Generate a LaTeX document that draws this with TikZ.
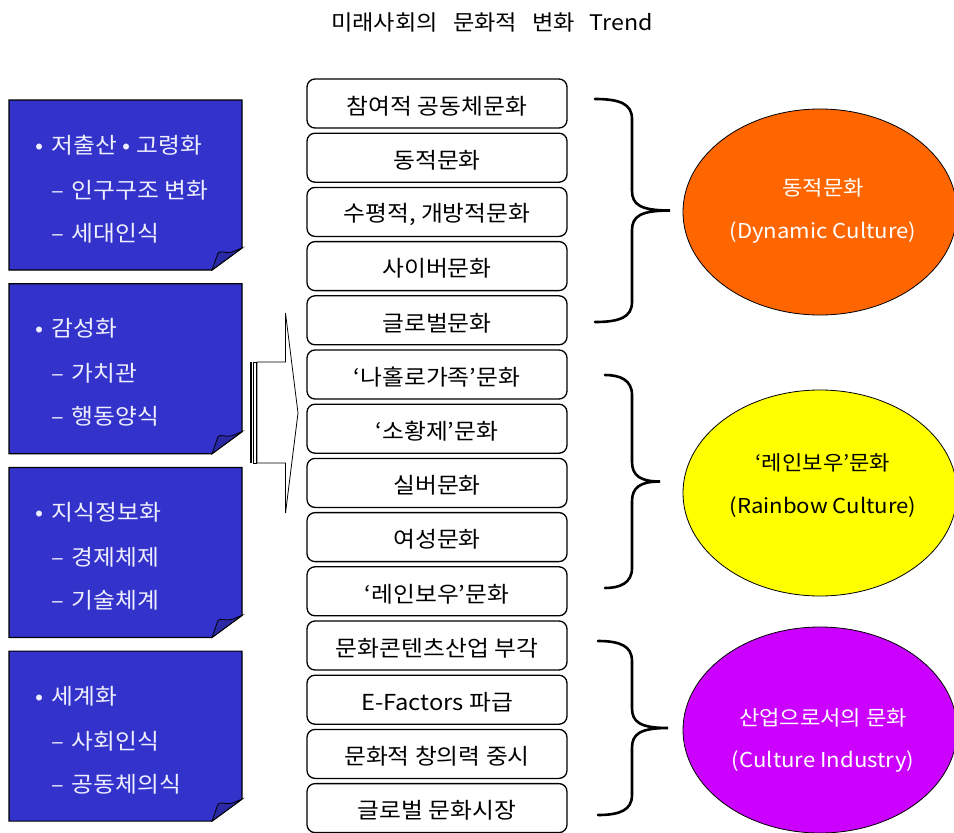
\documentclass[tikz,border=0pt]{standalone}
\usepackage{fontspec}
\setmainfont[FakeStretch=1.08]{Noto Sans CJK KR}
\usetikzlibrary{shapes.geometric}
\definecolor{boxblue}{HTML}{3333CC}
\definecolor{foldblue}{HTML}{2A2AA6}
\definecolor{dynorange}{HTML}{FF6600}
\definecolor{rainyellow}{HTML}{FFFF00}
\definecolor{indmag}{HTML}{CC00FF}
\definecolor{lighttext}{HTML}{EEEEFF}
\newcommand\drawbrace[5]{%
  \draw[bracestyle] (#1,#4) .. controls ({#2-12},#4) and (#2,{#4+5}) .. (#2,{#4+20})
    -- (#2,{(#4+#5)/2-20}) .. controls (#2,{(#4+#5)/2-6}) and ({#2+8},{(#4+#5)/2}) .. (#3,{(#4+#5)/2})
    .. controls ({#2+8},{(#4+#5)/2}) and (#2,{(#4+#5)/2+6}) .. (#2,{(#4+#5)/2+20})
    -- (#2,{#5-20}) .. controls (#2,{#5-5}) and ({#2-12},#5) .. (#1,#5);}
\begin{document}
\begin{tikzpicture}[x=1pt,y=-1pt,
  every node/.style={inner sep=0pt,outer sep=0pt},
  mbox/.style={draw,line width=1.3pt,rounded corners=8pt,minimum width=260pt,minimum height=49pt,fill=white,font=\fontsize{22}{26}\selectfont},
  ltext/.style={anchor=west,text=lighttext,font=\fontsize{22}{26}\selectfont},
  etext/.style={font=\fontsize{20.5}{24}\selectfont},
  bracestyle/.style={line width=2.6pt,line cap=round},
  ell/.style={ellipse,draw,line width=0.8pt,minimum width=274pt,minimum height=206pt}]
\useasboundingbox (0,0) rectangle (954,833);
\clip (0,0) rectangle (954,833);
% title
\node[font=\fontsize{21.5}{24}\selectfont] (title) at (492,22) {미래사회의\hspace{0.7em}문화적\hspace{0.7em}변화\hspace{0.7em}Trend};
% left boxes
\foreach \k/\a/\b/\c in {0/저출산 • 고령화/인구구조 변화/세대인식,1/감성화/가치관/행동양식,2/지식정보화/경제체제/기술체계,3/세계화/사회인식/공동체의식}{
  \pgfmathsetmacro\t{100+183.7*\k}
  \draw[fill=boxblue,line width=1.2pt] (9,\t) -- (242,\t) -- (242,\t+148) -- (212,\t+170) -- (9,\t+170) -- cycle;
  \draw[fill=foldblue,line width=0.8pt] (212,\t+170) -- (218,\t+153) .. controls (221,\t+150) and (226,\t+154) .. (232,\t+152) -- (242,\t+148) -- cycle;
  \node[ltext] (l\k a) at (35,\t+45) {\makebox[17pt][l]{•}\a};
  \node[ltext] (l\k b) at (51,\t+90) {\makebox[21pt][l]{–}\b};
  \node[ltext] (l\k c) at (51,\t+133) {\makebox[21pt][l]{–}\c};
}
% striped arrow
\fill (250,362) rectangle (252,463);
\draw[line width=0.8pt] (253.5,362) rectangle (256,463);
\draw[line width=0.8pt,fill=white] (257,362) -- (285.5,362) -- (285.5,313) -- (298,413) -- (285.5,513) -- (285.5,463) -- (257,463) -- cycle;
% middle boxes
\foreach \s [count=\i from 0] in {참여적 공동체문화,동적문화,{수평적, 개방적문화},사이버문화,글로벌문화,‘나홀로가족’문화,‘소황제’문화,실버문화,여성문화,‘레인보우’문화,문화콘텐츠산업 부각,E-Factors 파급,문화적 창의력 중시,글로벌 문화시장}{
  \node[mbox] (m\i) at (437,103.5+54.2*\i) {\raisebox{-2.5pt}[\height][\depth]{\s}};
}
% braces
\drawbrace{595}{632}{670}{99}{322}
\drawbrace{605}{632}{660}{375}{588}
\drawbrace{598}{632}{668}{641}{815}
% ellipses
\node[ell,fill=dynorange] (e1) at (820,212) {};
\node[ell,fill=rainyellow] (e2) at (820,493) {};
\node[ell,fill=indmag] (e3) at (820,730) {};
\node[etext,text=white] (e1a) at (823,188) {동적문화};
\node[etext,text=white] (e1b) at (823,233) {(Dynamic Culture)};
\node[etext] (e2a) at (823,463) {‘레인보우’문화};
\node[etext] (e2b) at (823,507) {(Rainbow Culture)};
\node[etext,text=white] (e3a) at (823,718) {산업으로서의 문화};
\node[etext,text=white] (e3b) at (823,762) {(Culture Industry)};
\end{tikzpicture}
\end{document}
